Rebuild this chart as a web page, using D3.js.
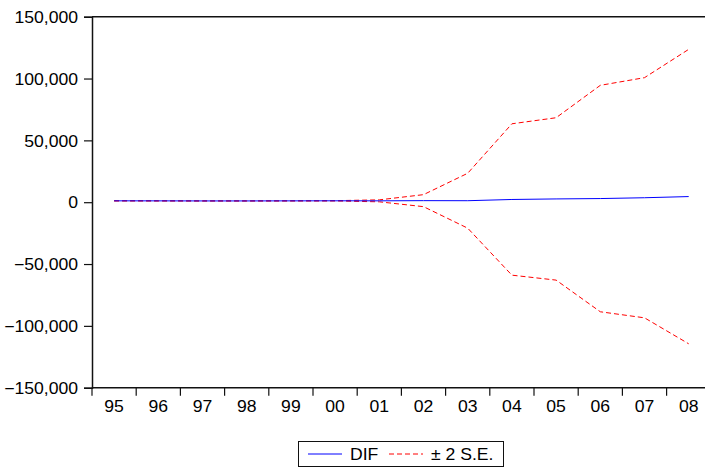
<!DOCTYPE html>
<html lang="en">
<head>
    <meta charset="UTF-8">
    <title>DIF</title>
    <style>
        body { margin: 0; background: #fff; }
        text { font-family: "Liberation Sans", Arial, sans-serif; fill: #000; }
    </style>
</head>
<body>
    <div class="vis"><svg width="705" height="468"></svg></div>
    <script src="https://cdnjs.cloudflare.com/ajax/libs/d3/7.8.5/d3.min.js"></script>
    <script>
        // values
        var years = ['95', '96', '97', '98', '99', '00', '01', '02', '03', '04', '05', '06', '07', '08'];
        var dif = [1100, 1080, 1030, 1030, 1080, 1130, 1100, 1250, 1200, 2200, 2650, 2950, 3600, 4550];
        var upper = [1200, 1200, 1150, 1150, 1200, 1250, 1900, 6100, 23400, 63400, 68300, 94500, 100700, 123600];
        var lower = [1000, 950, 900, 900, 950, 1000, 300, -3600, -21000, -59000, -63000, -88600, -93500, -114500];
        var yTicks = [-150000, -100000, -50000, 0, 50000, 100000, 150000];

        var svg = d3.select('.vis svg');
        var plotLeft = 92, plotRight = 710.8, plotTop = 16.7, plotBottom = 387.7;
        var sx = 1.1; // labels in the picture are a bit wider than tall

        var xScale = d3.scaleBand()
            .domain(years)
            .range([plotLeft, plotRight])
            .padding(0);

        var yScale = d3.scaleLinear()
            .domain([-150000, 150000])
            .range([plotBottom, plotTop]);

        var fmt = d3.format(',');

        // frame: top line
        svg.append('line')
            .attr('x1', plotLeft).attr('x2', 705)
            .attr('y1', plotTop).attr('y2', plotTop)
            .attr('stroke', '#111').attr('stroke-width', 1.5);

        // y axis
        var yAxis = svg.append('g')
            .attr('transform', `translate(${plotLeft},0)`)
            .call(d3.axisLeft(yScale).tickValues(yTicks).tickFormat(fmt).tickSize(8).tickPadding(6));
        yAxis.select('.domain').attr('stroke', '#111').attr('stroke-width', 1.5);
        yAxis.selectAll('.tick line').attr('stroke', '#111').attr('stroke-width', 1.2);
        yAxis.selectAll('.tick text')
            .attr('font-size', 16)
            .attr('x', -14 / sx)
            .attr('dy', '0.36em')
            .attr('transform', `scale(${sx},1)`);

        // x axis: ticks on year boundaries, labels centred
        var xAxis = svg.append('g')
            .attr('transform', `translate(0,${plotBottom})`);
        xAxis.append('line')
            .attr('x1', plotLeft).attr('x2', 705)
            .attr('y1', 0).attr('y2', 0)
            .attr('stroke', '#111').attr('stroke-width', 1.5);
        xAxis.selectAll('line.tick')
            .data(years)
            .enter()
            .append('line')
            .attr('class', 'tick')
            .attr('x1', d => xScale(d)).attr('x2', d => xScale(d))
            .attr('y1', 0).attr('y2', 8)
            .attr('stroke', '#111').attr('stroke-width', 1.2);
        xAxis.selectAll('text')
            .data(years)
            .enter()
            .append('text')
            .attr('font-size', 16)
            .attr('text-anchor', 'middle')
            .attr('transform', d => `translate(${xScale(d) + xScale.bandwidth() / 2},24) scale(${sx},1)`)
            .text(d => d);

        var line = d3.line()
            .x((d, i) => xScale(years[i]) + xScale.bandwidth() / 2)
            .y(d => yScale(d));

        svg.append('path')
            .datum(upper)
            .attr('d', line)
            .attr('fill', 'none')
            .attr('stroke', '#ff0000')
            .attr('stroke-width', 1)
            .attr('stroke-dasharray', '5,3');

        svg.append('path')
            .datum(lower)
            .attr('d', line)
            .attr('fill', 'none')
            .attr('stroke', '#ff0000')
            .attr('stroke-width', 1)
            .attr('stroke-dasharray', '5,3');

        svg.append('path')
            .datum(dif)
            .attr('d', line)
            .attr('fill', 'none')
            .attr('stroke', '#0000ff')
            .attr('stroke-width', 1);

        // legend
        var legend = svg.append('g');
        legend.append('rect')
            .attr('x', 298.5).attr('y', 441.5)
            .attr('width', 205).attr('height', 25)
            .attr('fill', '#fff')
            .attr('stroke', '#111').attr('stroke-width', 1);
        legend.append('line')
            .attr('x1', 308).attr('x2', 342)
            .attr('y1', 454).attr('y2', 454)
            .attr('stroke', '#0000ff').attr('stroke-width', 1);
        legend.append('text')
            .attr('font-size', 16)
            .attr('transform', `translate(350,460) scale(${sx},1)`)
            .text('DIF');
        legend.append('line')
            .attr('x1', 389).attr('x2', 423)
            .attr('y1', 454).attr('y2', 454)
            .attr('stroke', '#ff0000').attr('stroke-width', 1)
            .attr('stroke-dasharray', '5,3');
        legend.append('text')
            .attr('font-size', 16)
            .attr('transform', `translate(431,460) scale(${sx},1)`)
            .text('± 2 S.E.');
    </script>
</body>
</html>
